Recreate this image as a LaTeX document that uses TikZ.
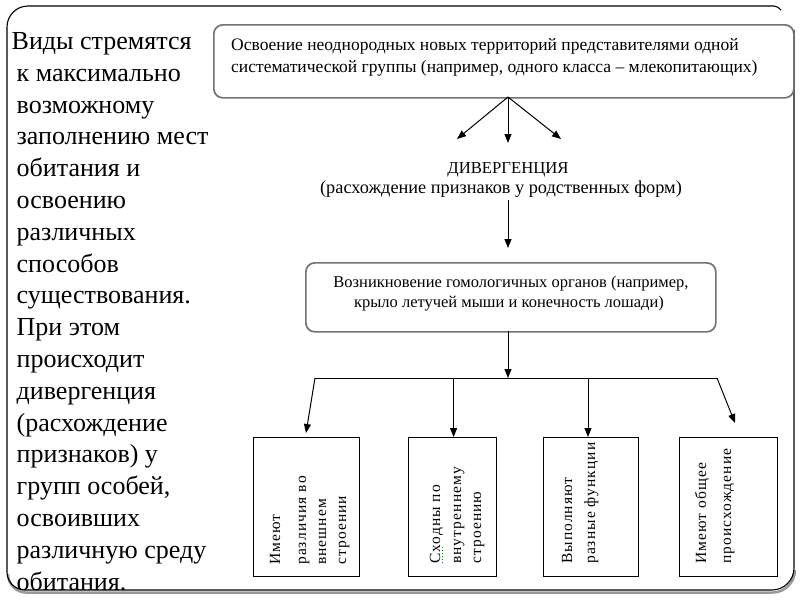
\documentclass[tikz,border=0pt]{standalone}
\usepackage{fontspec}
\setmainfont{Liberation Serif}
\newfontfamily\spaced[LetterSpace=7]{Liberation Serif}
\usetikzlibrary{arrows.meta}
\begin{document}
\begin{tikzpicture}[x=1pt,y=-1pt,
  arr/.style={-{Triangle[length=9pt,width=7pt]}, line width=1pt},
  rbox/.style={draw=black!55, line width=1.7pt, rounded corners=9pt, inner sep=0pt},
  vbox/.style={draw, line width=1.4pt, inner sep=0pt, anchor=north west},
  vline/.style={rotate=90, anchor=base west, inner sep=0pt, font=\fontsize{15.5}{20}\spaced},
  ltxt/.style={anchor=base west, inner sep=0pt, font=\fontsize{26}{31}\selectfont},
  stxt/.style={anchor=base west, inner sep=0pt, font=\fontsize{17.5}{20}\selectfont},
  ctxt/.style={anchor=base, inner sep=0pt, font=\fontsize{17}{20}\selectfont}
]
\useasboundingbox (0,0) rectangle (800,600);
% outer frame
\draw[black!40, line width=2.5pt] (795,570) .. controls (795,582) and (785,592.5) .. (773,592.5) -- (26,592.5) .. controls (16,592.5) and (8,584) .. (8,574);
\draw[line width=1.1pt] (794,30) -- (794,568) .. controls (794,580.1) and (784.1,590) .. (772,590) -- (25,590) .. controls (15.1,590) and (7,581.9) .. (7,572) -- (7,27) .. controls (7,15.4) and (16.4,6) .. (28,6) -- (774,6) .. controls (777,6) and (779,8) .. (781,10);
% left text
\node[ltxt] (l1) at (11.5,49.5) {Виды стремятся};
\foreach \t [count=\i from 2] in {{к максимально},{возможному},{заполнению мест},{обитания и},{освоению},{различных},{способов},{существования.},{При этом},{происходит},{дивергенция},{(расхождение},{признаков) у},{групп особей,},{освоивших},{различную среду},{обитания.}}
  \node[ltxt] (l\i) at (16.5,{49.5+31.8*(\i-1)}) {\t};
% top box
\node[rbox, anchor=north west, minimum width=580pt, minimum height=73pt] (top) at (213,24) {};
\node[stxt] (t1) at (231,50) {Освоение неоднородных новых территорий представителями одной};
\node[stxt] (t2) at (231,72) {систематической группы (например, одного класса – млекопитающих)};
% divergence
\node[ctxt, font=\fontsize{16.7}{20}\selectfont] (div) at (508,173) {ДИВЕРГЕНЦИЯ};
\node[ctxt, font=\fontsize{18.3}{20}\selectfont] (divs) at (501,193) {(расхождение признаков у родственных форм)};
\coordinate (o) at (508,97);
\coordinate (a1) at (457,139);
\coordinate (a2) at (508,143);
\coordinate (a3) at (561,139);
\draw[arr] (o) -- (a1);
\draw[arr] (o) -- (a2);
\draw[arr] (o) -- (a3);
\coordinate (d1) at (508,200);
\coordinate (d2) at (508,248);
\draw[arr] (d1) -- (d2);
% homolog box
\node[rbox, anchor=north west, minimum width=410pt, minimum height=69pt] (hom) at (305,262) {};
\node[ctxt, font=\fontsize{16.5}{20}\selectfont] (h1) at (511,287) {Возникновение гомологичных органов (например,};
\node[ctxt, font=\fontsize{16.5}{20}\selectfont] (h2) at (509,307) {крыло летучей мыши и конечность лошади)};
% bus
\coordinate (b0) at (508,331);
\coordinate (bc) at (508,378);
\coordinate (bl) at (315,378);
\coordinate (br) at (717,378);
\draw[arr] (b0) -- (bc);
\draw[line width=1pt] (bl) -- (br);
% bottom boxes
\node[vbox, minimum width=106pt, minimum height=139pt] (v1) at (253,437) {};
\node[vbox, minimum width=88pt, minimum height=139pt] (v2) at (408,437) {};
\node[vbox, minimum width=95pt, minimum height=139pt] (v3) at (543,437) {};
\node[vbox, minimum width=98pt, minimum height=139pt] (v4) at (679,437) {};
\coordinate (p2) at (453.6,378);
\coordinate (p3) at (588,378);
\draw[arr] (bl) -- (306,433);
\draw[arr] (p2) -- (v2.north -| p2);
\draw[arr] (p3) -- (v3.north -| p3);
\draw[arr] (br) -- (735,423);
% rotated texts
\node[vline] (r11) at (280,565) {Имеют};
\node[vline] (r12) at (306,565) {различия во};
\node[vline] (r13) at (326,565) {внешнем};
\node[vline] (r14) at (346,565) {строении};
\node[vline] (r21) at (440,564) {Сходны по};
\node[vline] (r22) at (461,564) {внутреннему};
\node[vline] (r23) at (481,564) {строению};
\node[vline] (r31) at (572,564) {Выполняют};
\node[vline] (r32) at (595,564) {разные функции};
\node[vline] (r41) at (706,564) {Имеют общее};
\node[vline] (r42) at (731,564) {происхождение};
\draw[green!55!black, line width=1pt, dotted] (442.5,563) -- (442.5,546);
\end{tikzpicture}
\end{document}
